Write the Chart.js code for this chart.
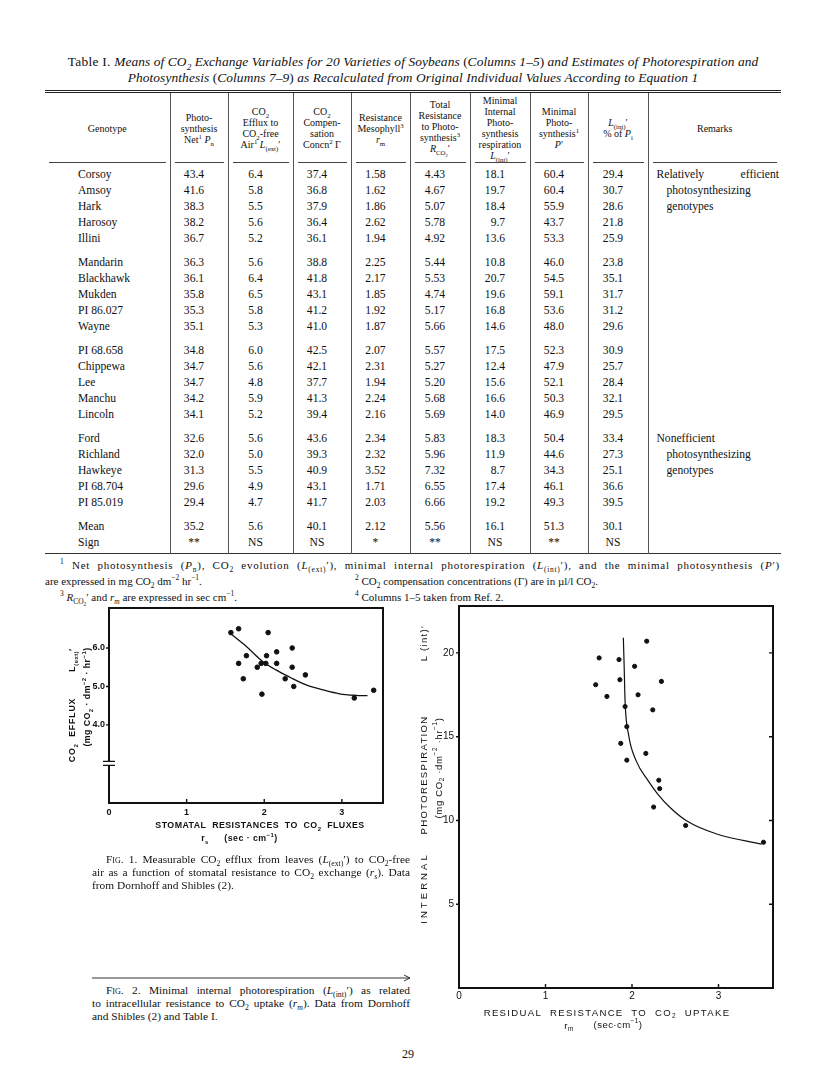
<!DOCTYPE html>
<html>
<head>
<meta charset="utf-8">
<script src="https://cdn.jsdelivr.net/npm/chart.js@4.4.1/dist/chart.umd.min.js"></script>
<style>
  body { margin: 0; background: #fff; }
  #page { position: relative; width: 816px; height: 1089px; overflow: hidden; color: #111;
          font-family: "Liberation Serif", "Times New Roman", serif; }
  .abs { position: absolute; white-space: nowrap; }
  sub, sup { font-size: 68%; line-height: 0; }
  .title { left: 0; width: 826px; text-align: center; font-size: 13.4px; line-height: 16px; }
  .title i { letter-spacing: 0.1px; }
  #tab { position: absolute; left: 45px; top: 90px; width: 736px; border-collapse: collapse; table-layout: fixed;
         border-top: 3px double #222; border-bottom: 1.5px solid #333; font-size: 11.6px; }
  #tab th { font-weight: normal; font-size: 10px; line-height: 11px; height: 70px; padding: 0; position: relative; vertical-align: middle; }
  #tab th::after { content: ''; position: absolute; left: 4px; right: 4px; bottom: 0; border-bottom: 1px solid #444; }
  #tab td { padding: 0; height: 16px; line-height: 16px; text-align: center; white-space: nowrap; }
  #tab th + th, #tab td + td { border-left: 1px solid #555; }
  #tab td.num { padding-right: 10px; }
  #tab td.name { text-align: left; padding-left: 33px; }
  #tab td.rem { text-align: left; padding-left: 8px; padding-right: 2px; }
  #tab td.rem .j { display: block; text-align: justify; text-align-last: justify; }
  #tab td.rem .ind { padding-left: 10px; }
  #tab tr.sp td { height: 0; line-height: 0; }
  .foot { font-size: 11px; line-height: 16px; }
  .cap { position: absolute; font-size: 11.4px; line-height: 13px; white-space: nowrap; }
  .cap div { text-align: justify; text-align-last: justify; }
  .cap div.last { text-align-last: left; }
  .sc { font-variant: small-caps; }
  .lab1 { font-family: "Liberation Sans", Arial, sans-serif; font-weight: bold; font-size: 8.8px; letter-spacing: 0.45px; color: #111; }
  .lab2 { font-family: "Liberation Sans", Arial, sans-serif; font-size: 9.6px; letter-spacing: 1.3px; color: #111; }
  .ctr { transform: translate(-50%, -50%); }
  .rot { transform: translate(-50%, -50%) rotate(-90deg); }
  .box { position: absolute; }
</style>
</head>
<body>
<div id="page">
  <div class="abs title" style="top:54px"><span style="letter-spacing:0.3px">Table I.</span> <i>Means of CO<sub>2</sub> Exchange Variables for 20 Varieties of Soybeans</i> (<i>Columns 1–5</i>) <i>and Estimates of Photorespiration and</i></div>
  <div class="abs title" style="top:70px"><i>Photosynthesis</i> (<i>Columns 7–9</i>) <i>as Recalculated from Original Individual Values According to Equation 1</i></div>

  <table id="tab"></table>

  <div class="abs foot" style="left:60px;top:557px;width:720px;letter-spacing:0.75px;text-align:justify;text-align-last:justify"><sup>1</sup>&nbsp;Net photosynthesis (<i>P</i><sub>n</sub>), CO<sub>2</sub> evolution (<i>L</i><sub>(ext)</sub>′), minimal internal photorespiration (<i>L</i><sub>(int)</sub>′), and the minimal photosynthesis (<i>P</i>′)</div>
  <div class="abs foot" style="left:45px;top:573px">are expressed in mg CO<sub>2</sub> dm<sup>−2</sup> hr<sup>−1</sup>.</div>
  <div class="abs foot" style="left:355px;top:573px"><sup>2</sup> CO<sub>2</sub> compensation concentrations (Γ) are in µl/l CO<sub>2</sub>.</div>
  <div class="abs foot" style="left:60px;top:589px"><sup>3</sup> <i>R</i><sub>CO<sub>2</sub></sub>′ and <i>r<sub>m</sub></i> are expressed in sec cm<sup>−1</sup>.</div>
  <div class="abs foot" style="left:355px;top:589px"><sup>4</sup> Columns 1–5 taken from Ref. 2.</div>

  <div class="box" style="left:40px;top:598px;width:360px;height:255px"><canvas id="fig1"></canvas></div>
  <div class="abs lab1 rot" style="left:72px;top:660px">L<sub>(ext)</sub>′</div>
  <div class="abs lab1 rot" style="left:72px;top:730px;letter-spacing:0.8px">CO<sub>2</sub>&nbsp; EFFLUX</div>
  <div class="abs lab1 rot" style="left:87px;top:697px">(mg CO<sub>2</sub> · dm<sup>−2</sup> · hr<sup>−1</sup>)</div>
  <div class="abs lab1 ctr" style="left:260px;top:825px">STOMATAL&nbsp; RESISTANCES&nbsp; TO&nbsp; CO<sub>2</sub>&nbsp; FLUXES</div>
  <div class="abs lab1 ctr" style="left:205px;top:838px">r<sub>s</sub></div>
  <div class="abs lab1 ctr" style="left:251px;top:838px">(sec · cm<sup>−1</sup>)</div>

  <div class="cap" style="left:92px;top:853px;width:318px">
    <div style="padding-left:14px"><span class="sc">Fig.</span> 1. Measurable CO<sub>2</sub> efflux from leaves (<i>L</i><sub>(ext)</sub>′) to CO<sub>2</sub>-free</div>
    <div>air as a function of stomatal resistance to CO<sub>2</sub> exchange (<i>r<sub>s</sub></i>). Data</div>
    <div class="last">from Dornhoff and Shibles (2).</div>
  </div>

  <svg class="box" style="left:90px;top:972px" width="324" height="12">
    <line x1="2" y1="6" x2="320" y2="6" stroke="#333" stroke-width="1"/>
    <path d="M314 3 L320 6 L314 9" fill="none" stroke="#333" stroke-width="1"/>
  </svg>
  <div class="cap" style="left:92px;top:984px;width:318px">
    <div style="padding-left:14px"><span class="sc">Fig.</span> 2. Minimal internal photorespiration (<i>L</i><sub>(int)</sub>′) as related</div>
    <div>to intracellular resistance to CO<sub>2</sub> uptake (<i>r<sub>m</sub></i>). Data from Dornhoff</div>
    <div class="last">and Shibles (2) and Table I.</div>
  </div>

  <div class="box" style="left:405px;top:595px;width:390px;height:435px"><canvas id="fig2"></canvas></div>
  <div class="abs lab2 rot" style="left:423px;top:643px">L (int)′</div>
  <div class="abs lab2 rot" style="left:423px;top:775px">PHOTORESPIRATION</div>
  <div class="abs lab2 rot" style="left:423px;top:888px;letter-spacing:3px">INTERNAL</div>
  <div class="abs lab2 rot" style="left:438px;top:768px;letter-spacing:0.6px">(mg CO<sub>2</sub> ·dm<sup>−2</sup> ·hr<sup>−1</sup>)</div>
  <div class="abs lab2 ctr" style="left:607px;top:1012px">RESIDUAL&nbsp; RESISTANCE&nbsp; TO&nbsp; CO<sub>2</sub>&nbsp; UPTAKE</div>
  <div class="abs lab2 ctr" style="left:569px;top:1025px;letter-spacing:0.4px">r<sub>m</sub></div>
  <div class="abs lab2 ctr" style="left:618px;top:1024px;letter-spacing:0.4px">(sec·cm<sup>−1</sup>)</div>

  <div class="abs" style="left:402px;top:1047px;font-size:12px">29</div>
</div>

<script>
// Table I values
const genotypes = ['Corsoy', 'Amsoy', 'Hark', 'Harosoy', 'Illini',
  'Mandarin', 'Blackhawk', 'Mukden', 'PI 86.027', 'Wayne',
  'PI 68.658', 'Chippewa', 'Lee', 'Manchu', 'Lincoln',
  'Ford', 'Richland', 'Hawkeye', 'PI 68.704', 'PI 85.019']
const netPn = [43.4, 41.6, 38.3, 38.2, 36.7, 36.3, 36.1, 35.8, 35.3, 35.1, 34.8, 34.7, 34.7, 34.2, 34.1, 32.6, 32.0, 31.3, 29.6, 29.4]
const effluxLext = [6.4, 5.8, 5.5, 5.6, 5.2, 5.6, 6.4, 6.5, 5.8, 5.3, 6.0, 5.6, 4.8, 5.9, 5.2, 5.6, 5.0, 5.5, 4.9, 4.7]
const compGamma = [37.4, 36.8, 37.9, 36.4, 36.1, 38.8, 41.8, 43.1, 41.2, 41.0, 42.5, 42.1, 37.7, 41.3, 39.4, 43.6, 39.3, 40.9, 43.1, 41.7]
const mesophyllRm = [1.58, 1.62, 1.86, 2.62, 1.94, 2.25, 2.17, 1.85, 1.92, 1.87, 2.07, 2.31, 1.94, 2.24, 2.16, 2.34, 2.32, 3.52, 1.71, 2.03]
const totalRco2 = [4.43, 4.67, 5.07, 5.78, 4.92, 5.44, 5.53, 4.74, 5.17, 5.66, 5.57, 5.27, 5.20, 5.68, 5.69, 5.83, 5.96, 7.32, 6.55, 6.66]
const internalLint = [18.1, 19.7, 18.4, 9.7, 13.6, 10.8, 20.7, 19.6, 16.8, 14.6, 17.5, 12.4, 15.6, 16.6, 14.0, 18.3, 11.9, 8.7, 17.4, 19.2]
const minimalP = [60.4, 60.4, 55.9, 43.7, 53.3, 46.0, 54.5, 59.1, 53.6, 48.0, 52.3, 47.9, 52.1, 50.3, 46.9, 50.4, 44.6, 34.3, 46.1, 49.3]
const lintPctPi = [29.4, 30.7, 28.6, 21.8, 25.9, 23.8, 35.1, 31.7, 31.2, 29.6, 30.9, 25.7, 28.4, 32.1, 29.5, 33.4, 27.3, 25.1, 36.6, 39.5]
const meanRow = ['35.2', '5.6', '40.1', '2.12', '5.56', '16.1', '51.3', '30.1']
const signRow = ['**', 'NS', 'NS', '*', '**', 'NS', '**', 'NS']
const remarks = { 0: 'Relatively efficient', 1: 'photosynthesizing', 2: 'genotypes',
                  15: 'Nonefficient', 16: 'photosynthesizing', 17: 'genotypes' }

// Fig. 1 points (stomatal resistance, CO2 efflux)
const fig1Rs = [1.57, 1.67, 2.05, 1.67, 1.77, 1.73, 1.91, 1.96, 2.03, 2.02, 1.97, 2.16, 2.16, 2.27, 2.36, 2.36, 2.38, 2.53, 3.16, 3.41]
const fig1Lext = [6.4, 6.5, 6.4, 5.6, 5.8, 5.2, 5.5, 5.6, 5.8, 5.6, 4.8, 5.9, 5.6, 5.2, 6.0, 5.5, 5.0, 5.3, 4.7, 4.9]
const fig1CurveX = [1.57, 1.77, 1.98, 2.15, 2.33, 2.54, 2.76, 2.97, 3.18, 3.33]
const fig1CurveY = [6.37, 6.04, 5.65, 5.43, 5.24, 5.04, 4.91, 4.81, 4.77, 4.76]

// Fig. 2 hand drawn curve
const fig2CurveX = [1.90, 1.91, 1.92, 1.96, 2.05, 2.19, 2.30, 2.44, 2.63, 2.98, 3.50]
const fig2CurveY = [20.9, 19.08, 17.1, 15.12, 13.54, 12.35, 11.56, 10.77, 9.98, 9.19, 8.59]

const colWidths = [125, 58, 65, 58, 59, 60, 60, 58, 60, 133]
const headers = [
  'Genotype',
  'Photo-<br>synthesis<br>Net<sup>1</sup> <i>P</i><sub>n</sub>',
  'CO<sub>2</sub><br>Efflux to<br>CO<sub>2</sub>-free<br>Air<sup>1</sup> <i>L</i><sub>(ext)</sub>′',
  'CO<sub>2</sub><br>Compen-<br>sation<br>Concn<sup>2</sup> Γ',
  'Resistance<br>Mesophyll<sup>3</sup><br><i>r</i><sub>m</sub>',
  'Total<br>Resistance<br>to Photo-<br>synthesis<sup>3</sup><br><i>R</i><sub>CO<sub>2</sub></sub>′',
  'Minimal<br>Internal<br>Photo-<br>synthesis<br>respiration<br><i>L</i><sub>(int)</sub>′',
  'Minimal<br>Photo-<br>synthesis<sup>1</sup><br><i>P</i>′',
  '<i>L</i><sub>(int)</sub>′<br>% of <i>P</i><sub>i</sub>',
  'Remarks'
]

function fmt(v, d, pad) {
  let s = v.toFixed(d)
  if (pad && v < 10) s = '\u2007' + s
  return s
}

function buildTable() {
  const cols = [[netPn, 1], [effluxLext, 1], [compGamma, 1], [mesophyllRm, 2], [totalRco2, 2], [internalLint, 1, true], [minimalP, 1], [lintPctPi, 1]]
  const spacer = h => '<tr class="sp" style="height:' + h + 'px">' + '<td></td>'.repeat(10) + '</tr>'
  let html = '<colgroup>' + colWidths.map(w => '<col style="width:' + w + 'px">').join('') + '</colgroup>'
  html += '<tr>' + headers.map(h => '<th>' + h + '</th>').join('') + '</tr>'
  html += spacer(4)
  genotypes.forEach((g, i) => {
    if (i > 0 && i % 5 === 0) html += spacer(8)
    let row = '<td class="name">' + g + '</td>'
    cols.forEach(c => { row += '<td class="num">' + fmt(c[0][i], c[1], c[2]) + '</td>' })
    let r = remarks[i] || ''
    if (i === 0) r = '<span class="j">' + r + '</span>'
    else if (r && i !== 15) r = '<span class="ind">' + r + '</span>'
    row += '<td class="rem">' + r + '</td>'
    html += '<tr>' + row + '</tr>'
  })
  html += spacer(8)
  html += '<tr><td class="name">Mean</td>' + meanRow.map(v => '<td class="num">' + v + '</td>').join('') + '<td></td></tr>'
  html += '<tr><td class="name">Sign</td>' + signRow.map(v => '<td class="num">' + v + '</td>').join('') + '<td></td></tr>'
  html += spacer(2)
  document.getElementById('tab').innerHTML = html
}
buildTable()

// frame, inward/outward tick marks and axis break
const framePlugin = {
  id: 'frame',
  afterDraw(chart, args, opts) {
    const { ctx, chartArea: a } = chart
    const x = chart.scales.x, y = chart.scales.y
    ctx.save()
    ctx.strokeStyle = '#111'
    ctx.lineWidth = 2
    ctx.strokeRect(a.left, a.top, a.right - a.left, a.bottom - a.top)
    ctx.lineWidth = 1.4
    ctx.beginPath()
    x.ticks.forEach(t => {
      if (t.value <= 0) return
      const px = x.getPixelForValue(t.value)
      ctx.moveTo(px, a.bottom)
      ctx.lineTo(px, a.bottom - 4)
    })
    y.ticks.forEach(t => {
      const py = y.getPixelForValue(t.value)
      ctx.moveTo(a.left, py)
      ctx.lineTo(a.left - 3, py)
      if (opts.rightTicks) {
        ctx.moveTo(a.right, py)
        ctx.lineTo(a.right - 4, py)
      }
    })
    ctx.stroke()
    if (opts.breakAt != null) {
      const py = y.getPixelForValue(opts.breakAt)
      ctx.fillStyle = '#fff'
      ctx.fillRect(a.left - 3, py - 2, 6, 4)
      ctx.beginPath()
      ctx.lineWidth = 1.4
      ctx.moveTo(a.left - 6, py - 2)
      ctx.lineTo(a.left + 6, py - 2)
      ctx.moveTo(a.left - 6, py + 2)
      ctx.lineTo(a.left + 6, py + 2)
      ctx.stroke()
    }
    ctx.restore()
  }
}

function axisOpts(min, max, tickValues, font, pad, fitSize, isX, fmtTick) {
  return {
    type: 'linear',
    min: min,
    max: max,
    grid: { display: false, drawTicks: false },
    border: { display: false },
    afterBuildTicks: s => { s.ticks = tickValues.map(v => ({ value: v })) },
    afterFit: s => { if (isX) s.height = fitSize; else s.width = fitSize },
    ticks: { color: '#111', font: font, padding: pad, maxRotation: 0, autoSkip: false, callback: fmtTick }
  }
}

const sansBold = { family: 'Liberation Sans', size: 9, weight: 'bold' }
const sans = { family: 'Liberation Sans', size: 10 }

new Chart(document.getElementById('fig1'), {
  type: 'scatter',
  data: {
    datasets: [
      {
        label: 'L(ext)',
        data: fig1Rs.map((v, i) => ({ x: v, y: fig1Lext[i] })),
        backgroundColor: '#111',
        borderColor: '#111',
        pointRadius: 2.3
      },
      {
        label: 'curve',
        type: 'line',
        data: fig1CurveX.map((v, i) => ({ x: v, y: fig1CurveY[i] })),
        borderColor: '#111',
        borderWidth: 1.3,
        pointRadius: 0,
        cubicInterpolationMode: 'monotone'
      }
    ]
  },
  options: {
    animation: false,
    responsive: true,
    maintainAspectRatio: false,
    layout: { padding: { top: 10, right: 17, left: 0, bottom: 0 } },
    plugins: { legend: { display: false }, tooltip: { enabled: false }, frame: { breakAt: 3.0 } },
    scales: {
      x: axisOpts(0, 3.53, [0, 1, 2, 3], sansBold, 4, 50, true, v => String(v)),
      y: axisOpts(1.97, 7.04, [4, 5, 6], sansBold, 4, 69, false, v => v.toFixed(1))
    }
  },
  plugins: [framePlugin]
})

new Chart(document.getElementById('fig2'), {
  type: 'scatter',
  data: {
    datasets: [
      {
        label: 'L(int)',
        data: mesophyllRm.map((v, i) => ({ x: v, y: internalLint[i] })),
        backgroundColor: '#111',
        borderColor: '#111',
        pointRadius: 2.1
      },
      {
        label: 'curve',
        type: 'line',
        data: fig2CurveX.map((v, i) => ({ x: v, y: fig2CurveY[i] })),
        borderColor: '#111',
        borderWidth: 1.2,
        pointRadius: 0,
        cubicInterpolationMode: 'monotone'
      }
    ]
  },
  options: {
    animation: false,
    responsive: true,
    maintainAspectRatio: false,
    layout: { padding: { top: 9, right: 22, left: 0, bottom: 0 } },
    plugins: { legend: { display: false }, tooltip: { enabled: false }, frame: { rightTicks: true } },
    scales: {
      x: axisOpts(0, 3.63, [0, 1, 2, 3], sans, 2, 42, true, v => String(v)),
      y: axisOpts(0, 22.8, [5, 10, 15, 20], sans, 5, 54, false, v => String(v))
    }
  },
  plugins: [framePlugin]
})
</script>
</body>
</html>
